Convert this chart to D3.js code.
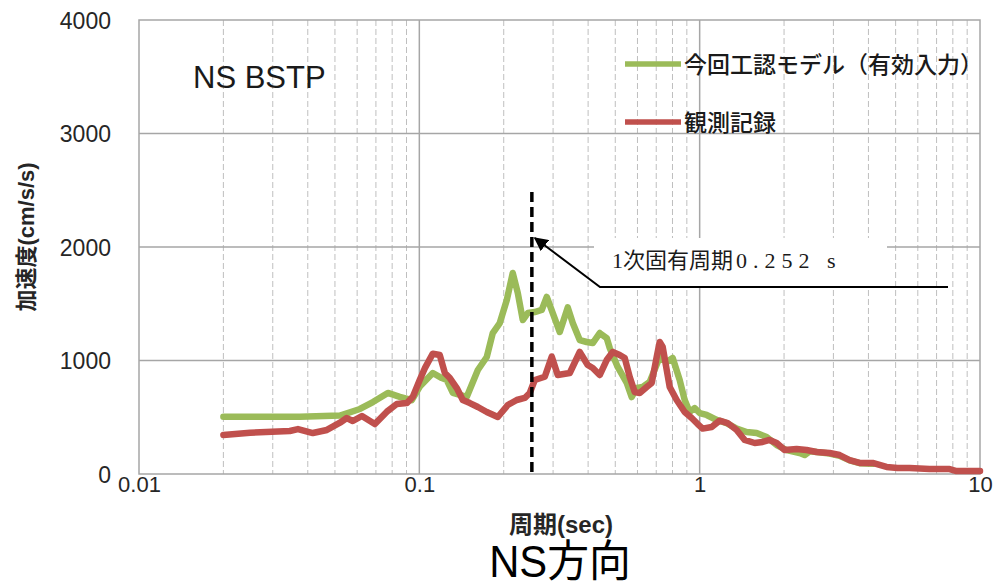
<!DOCTYPE html>
<html>
<head>
<meta charset="utf-8">
<script src="https://cdn.jsdelivr.net/npm/d3@7"></script>
<style>
  html, body { margin: 0; padding: 0; background: #fff; }
  svg { display: block; }
</style>
</head>
<body>
<svg id="chart" width="994" height="585"></svg>
<script>
// Response spectrum (NS, BSTP): period [s] vs acceleration [cm/s/s]
const modelPeriod = [0.020, 0.0375, 0.0521, 0.0614, 0.0683, 0.0772, 0.0852, 0.094, 0.1004, 0.1117,
  0.1203, 0.1253, 0.1317, 0.1477, 0.1617, 0.174, 0.1828, 0.1936, 0.2051, 0.2154,
  0.2245, 0.2339, 0.2437, 0.2581, 0.2733, 0.2848, 0.2992, 0.3169, 0.3384, 0.3526,
  0.3734, 0.3955, 0.4155, 0.440, 0.466, 0.4777, 0.510, 0.5494, 0.5724, 0.5963,
  0.6264, 0.6634, 0.7202, 0.7629, 0.8013, 0.8486, 0.8842, 0.921, 0.9598, 1.0,
  1.059, 1.150, 1.248, 1.355, 1.471, 1.597, 1.733, 1.882, 2.043, 2.273,
  2.368, 2.467, 2.613, 2.908, 3.157, 3.426, 3.72, 4.14];
const modelAccel = [505, 505, 515, 573, 634, 714, 680, 650, 770, 890,
  845, 828, 714, 680, 916, 1031, 1242, 1330, 1533, 1771,
  1595, 1357, 1418, 1427, 1445, 1560, 1418, 1251, 1468, 1330,
  1180, 1163, 1154, 1242, 1198, 1110, 943, 802, 678, 758,
  767, 811, 1031, 987, 1022, 828, 652, 546, 581, 537,
  520, 476, 449, 400, 370, 361, 326, 255, 211, 185,
  167, 200, 194, 180, 160, 120, 95, 90];

const obsPeriod = [0.020, 0.0249, 0.0345, 0.0369, 0.0417, 0.0468, 0.0521, 0.0551, 0.0579, 0.0624,
  0.0694, 0.0766, 0.0831, 0.0903, 0.0948, 0.1004, 0.105, 0.1117, 0.1183, 0.1233,
  0.1285, 0.136, 0.1429, 0.1514, 0.1617, 0.174, 0.1905, 0.2068, 0.2226, 0.2378,
  0.2477, 0.2581, 0.2802, 0.2968, 0.3117, 0.344, 0.3734, 0.3987, 0.4155, 0.440,
  0.466, 0.4896, 0.5186, 0.5404, 0.563, 0.5866, 0.6112, 0.6473, 0.6744, 0.7027,
  0.7202, 0.7382, 0.7629, 0.7818, 0.8279, 0.8842, 0.9365, 0.9838, 1.025, 1.104,
  1.178, 1.258, 1.355, 1.447, 1.571, 1.677, 1.776, 1.882, 2.009, 2.217,
  2.407, 2.613, 2.908, 3.157, 3.426, 3.72, 4.14, 4.64, 5.08, 5.61,
  6.61, 7.79, 8.25, 9.8, 10.0];
const obsAccel = [344, 364, 379, 396, 361, 388, 452, 493, 467, 511,
  440, 549, 617, 625, 681, 830, 940, 1060, 1048, 890,
  845, 757, 652, 625, 590, 546, 502, 608, 652, 670,
  714, 828, 857, 1034, 872, 890, 1075, 960, 934, 872,
  1004, 1075, 1048, 1022, 855, 722, 714, 767, 802, 1031,
  1163, 1119, 916, 767, 652, 546, 493, 440, 400, 414,
  470, 449, 388, 300, 273, 282, 300, 273, 211, 220,
  211, 194, 185, 167, 123, 97, 97, 62, 53, 53,
  44, 44, 26, 26, 26];

const seriesNames = ["今回工認モデル（有効入力）", "観測記録"];
const seriesColors = ["#9BBB59", "#C0504D"];

const xTickValues = [0.01, 0.1, 1, 10];
const xTickLabels = ["0.01", "0.1", "1", "10"];
const yTickValues = [0, 1000, 2000, 3000, 4000];

const firstModePeriod = 0.252;
const firstModePrefix = "1次固有周期";
const firstModeValue = "0.252 s";

const svg = d3.select("#chart");
const W = 994, H = 585;
svg.append("rect").attr("width", W).attr("height", H).attr("fill", "#fff");

const x = d3.scaleLog().domain([0.01, 10]).range([139, 980]);
const y = d3.scaleLinear().domain([0, 4000]).range([474, 20]);

const gridColor = "#A6A6A6";
const minorColor = "#BFBFBF";
const sans = "'Liberation Sans', Arial, 'Noto Sans CJK JP', sans-serif";

// minor (2..9 per decade) dashed verticals
const minorTicks = [];
[0.01, 0.1, 1].forEach(d => { for (let k = 2; k <= 9; k++) minorTicks.push(d * k); });
svg.append("g").selectAll("line").data(minorTicks).join("line")
  .attr("x1", d => x(d)).attr("x2", d => x(d))
  .attr("y1", y(4000)).attr("y2", y(0))
  .attr("stroke", minorColor).attr("stroke-width", 1)
  .attr("stroke-dasharray", "6,3");

// major gridlines
svg.append("g").selectAll("line").data([0.1, 1]).join("line")
  .attr("x1", d => x(d)).attr("x2", d => x(d))
  .attr("y1", y(4000)).attr("y2", y(0))
  .attr("stroke", gridColor).attr("stroke-width", 1.5);
svg.append("g").selectAll("line").data([1000, 2000, 3000]).join("line")
  .attr("x1", x(0.01)).attr("x2", x(10))
  .attr("y1", d => y(d)).attr("y2", d => y(d))
  .attr("stroke", gridColor).attr("stroke-width", 1.5);

// plot frame
svg.append("rect")
  .attr("x", x(0.01)).attr("y", y(4000))
  .attr("width", x(10) - x(0.01)).attr("height", y(0) - y(4000))
  .attr("fill", "none").attr("stroke", gridColor).attr("stroke-width", 1.5);

// axes (labels only)
const yAxis = d3.axisLeft(y).tickValues(yTickValues).tickSize(0).tickPadding(0).tickFormat(d3.format("d"));
const gy = svg.append("g").attr("transform", "translate(111,1)").call(yAxis);
gy.select(".domain").remove();
gy.selectAll("text").attr("font-family", sans).attr("font-size", 23).attr("fill", "#262626");

const xAxis = d3.axisBottom(x).tickValues(xTickValues).tickSize(0).tickPadding(0)
  .tickFormat((d, i) => xTickLabels[i]);
const gx = svg.append("g").attr("transform", "translate(0,476)").call(xAxis);
gx.select(".domain").remove();
gx.selectAll("text").attr("font-family", sans).attr("font-size", 22).attr("fill", "#262626");

// spectra
const line = d3.line().x(d => x(d[0])).y(d => y(d[1])).curve(d3.curveLinear);
const modelData = d3.zip(modelPeriod, modelAccel);
const obsData = d3.zip(obsPeriod, obsAccel);
svg.append("path").datum(modelData).attr("d", line)
  .attr("fill", "none").attr("stroke", seriesColors[0]).attr("stroke-width", 6.5)
  .attr("stroke-linejoin", "round").attr("stroke-linecap", "round");
svg.append("path").datum(obsData).attr("d", line)
  .attr("fill", "none").attr("stroke", seriesColors[1]).attr("stroke-width", 6.5)
  .attr("stroke-linejoin", "round").attr("stroke-linecap", "round");

// legend
const legend = svg.append("g");
[64, 122].forEach((ly, i) => {
  legend.append("line").attr("x1", 625).attr("x2", 681).attr("y1", ly).attr("y2", ly)
    .attr("stroke", seriesColors[i]).attr("stroke-width", 5.5);
  legend.append("text").attr("x", 684).attr("y", ly + 9)
    .attr("font-family", "'Noto Sans CJK JP', sans-serif").attr("font-size", 23)
    .attr("font-weight", 500).attr("fill", "#1a1a1a").text(seriesNames[i]);
});

// station label
svg.append("text").attr("x", 193).attr("y", 88)
  .attr("font-family", sans).attr("font-size", 31).attr("fill", "#1a1a1a").text("NS BSTP");

// first natural period marker
svg.append("line")
  .attr("x1", x(firstModePeriod)).attr("x2", x(firstModePeriod))
  .attr("y1", 192).attr("y2", y(0))
  .attr("stroke", "#000").attr("stroke-width", 3.5).attr("stroke-dasharray", "10,5");

// callout box + leader
svg.append("rect").attr("x", 594).attr("y", 238).attr("width", 293).attr("height", 48).attr("fill", "#fff");
svg.append("defs").append("marker").attr("id", "arrow")
  .attr("viewBox", "0 0 10 10").attr("refX", 9).attr("refY", 5)
  .attr("markerWidth", 7).attr("markerHeight", 7).attr("orient", "auto-start-reverse")
  .append("path").attr("d", "M0,0 L10,5 L0,10 z").attr("fill", "#000");
svg.append("polyline")
  .attr("points", `948,287 600,287 ${x(firstModePeriod) + 3},238`)
  .attr("fill", "none").attr("stroke", "#000").attr("stroke-width", 2)
  .attr("marker-end", "url(#arrow)");
const callout = svg.append("text").attr("x", 612).attr("y", 268)
  .attr("font-family", "'Liberation Serif', 'DejaVu Serif', 'Noto Sans CJK JP', serif")
  .attr("font-size", 22).attr("fill", "#1a1a1a");
callout.append("tspan").text(firstModePrefix);
callout.append("tspan").attr("dx", 3).attr("letter-spacing", 6).text(firstModeValue);

// axis titles
svg.append("text").attr("transform", "translate(34,237) rotate(-90)")
  .attr("text-anchor", "middle").attr("font-family", sans).attr("font-weight", "bold")
  .attr("font-size", 22).attr("fill", "#262626").text("加速度(cm/s/s)");
svg.append("text").attr("x", 561).attr("y", 533)
  .attr("text-anchor", "middle").attr("font-family", sans).attr("font-weight", "bold")
  .attr("font-size", 24).attr("fill", "#262626").text("周期(sec)");

// direction caption
svg.append("text").attr("transform", "translate(560,577) scale(0.95,1)")
  .attr("text-anchor", "middle").attr("font-family", sans)
  .attr("font-size", 44).attr("fill", "#000").text("NS方向");
</script>
</body>
</html>
